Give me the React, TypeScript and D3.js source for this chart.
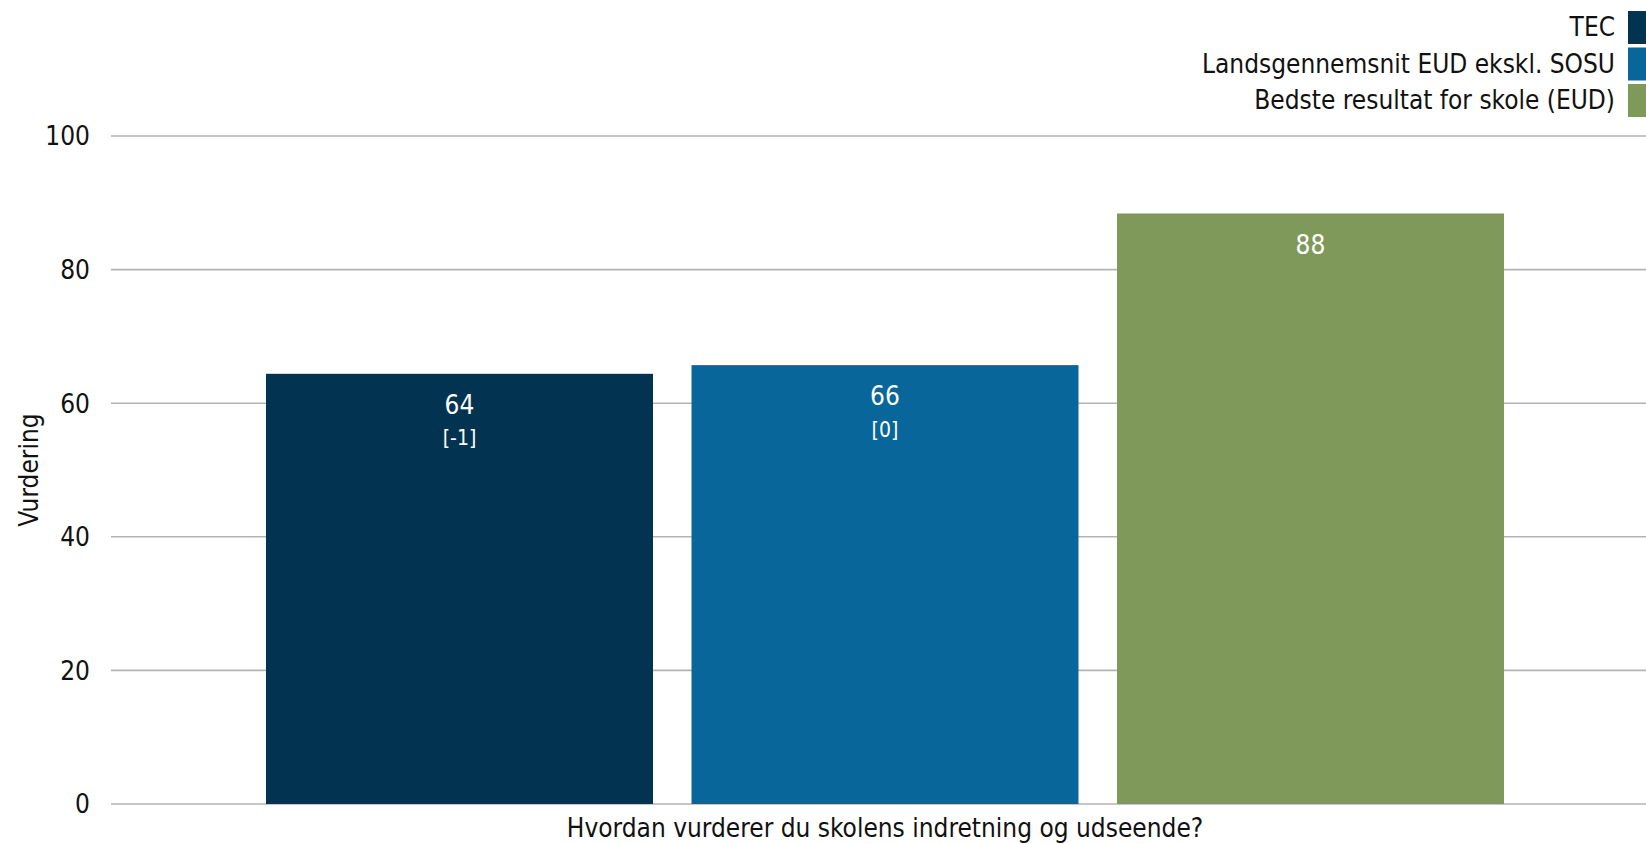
import React from "react";
import * as d3 from "d3";

const categories = ["Hvordan vurderer du skolens indretning og udseende?"];
const seriesNames = ["TEC", "Landsgennemsnit EUD ekskl. SOSU", "Bedste resultat for skole (EUD)"];
const seriesColors = ["#023351", "#08669a", "#7e9959"];
const seriesValues = [64.4, 65.7, 88.4];
const seriesDiffs = ["[-1]", "[0]", null as string | null];
const yTicks = [0, 20, 40, 60, 80, 100];
const yLabel = "Vurdering";

const W = 1646;
const H = 844;
const FONT = "'DejaVu Sans', Verdana, sans-serif";

export default function App() {
  const plotLeft = 111;
  const plotRight = 1659;
  const plotTop = 136;
  const plotBottom = 804;

  const y = d3.scaleLinear().domain([0, 100]).range([plotBottom, plotTop]);
  const x0 = d3.scaleBand<string>().domain(categories).range([plotLeft, plotRight]).paddingOuter(0.1252).paddingInner(0);
  const x1 = d3.scaleBand<string>().domain(seriesNames).range([0, x0.bandwidth()]).paddingInner(0.0905).paddingOuter(0);

  const textStyle: React.CSSProperties = { fontFamily: FONT, fontStretch: "condensed" };
  const fs = 26;

  return (
    <svg width={W} height={H} style={{ position: "absolute", left: 0, top: 0, display: "block", overflow: "hidden", background: "#fff" }}>
      {yTicks.map((t) => (
        <line key={"g" + t} x1={plotLeft} x2={plotRight} y1={y(t)} y2={y(t)} stroke="#b3b3b3" strokeWidth={1.6} />
      ))}
      {yTicks.map((t) => (
        <text key={"t" + t} x={90} y={y(t)} dy="0.36em" textAnchor="end" fontSize={fs} fill="#111" style={textStyle}>
          {t}
        </text>
      ))}
      <text transform={`translate(38, ${(plotTop + plotBottom) / 2}) rotate(-90)`} textAnchor="middle" fontSize={fs} fill="#111" style={textStyle}>
        {yLabel}
      </text>
      {categories.map((c) => (
        <g key={c} transform={`translate(${x0(c)},0)`}>
          {seriesNames.map((s, i) => {
            const bx = x1(s)!;
            const bw = x1.bandwidth();
            const by = y(seriesValues[i]);
            return (
              <g key={s}>
                <rect x={bx} y={by} width={bw} height={plotBottom - by} fill={seriesColors[i]} />
                <text x={bx + bw / 2} y={by + 31} dy="0.36em" textAnchor="middle" fontSize={fs} fill="#fff" style={textStyle}>
                  {Math.round(seriesValues[i])}
                </text>
                {seriesDiffs[i] && (
                  <text x={bx + bw / 2} y={by + 64} dy="0.36em" textAnchor="middle" fontSize={21} fill="#fff" style={textStyle}>
                    {seriesDiffs[i]}
                  </text>
                )}
              </g>
            );
          })}
          <text x={x0.bandwidth() / 2} y={828} dy="0.36em" textAnchor="middle" fontSize={fs} fill="#111" style={textStyle}>
            {c}
          </text>
        </g>
      ))}
      {seriesNames.map((s, i) => (
        <g key={"l" + s}>
          <rect x={1628} y={11 + i * 36.5} width={32} height={33} fill={seriesColors[i]} />
          <text x={1615} y={27 + i * 36.5} dy="0.36em" textAnchor="end" fontSize={fs} fill="#111" style={textStyle}>
            {s}
          </text>
        </g>
      ))}
    </svg>
  );
}
